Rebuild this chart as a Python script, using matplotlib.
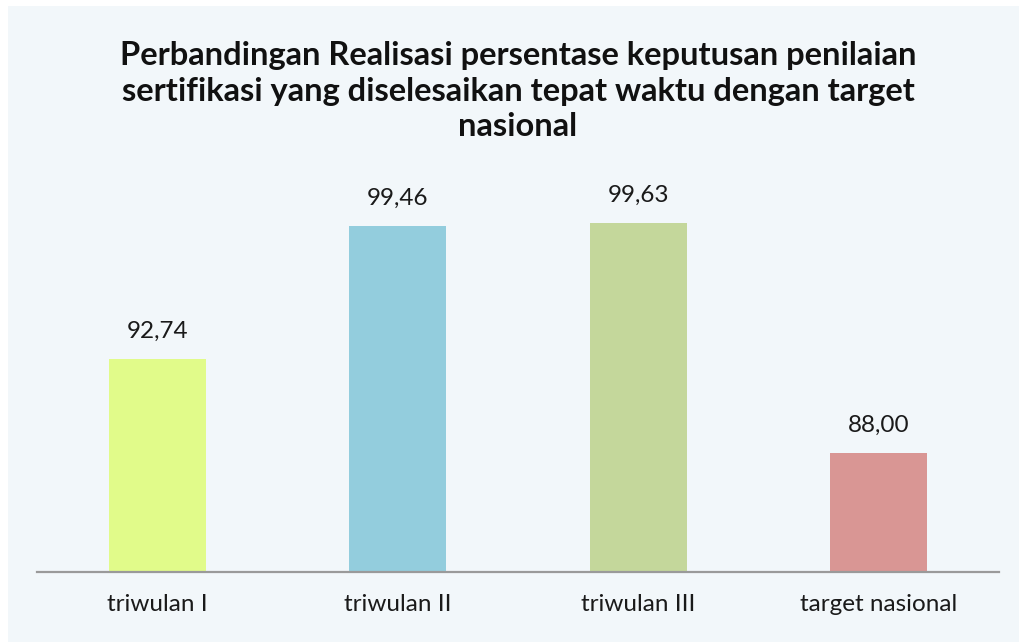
import matplotlib
matplotlib.use("Agg")
import matplotlib.pyplot as plt
from matplotlib.patches import Rectangle

categories = ["triwulan I", "triwulan II", "triwulan III", "target nasional"]
values = [92.74, 99.46, 99.63, 88.00]
labels = ["92,74", "99,46", "99,63", "88,00"]
colors = ["#E1FB8A", "#93CDDD", "#C4D79B", "#D99694"]
title = ("Perbandingan Realisasi persentase keputusan penilaian\n"
         "sertifikasi yang diselesaikan tepat waktu dengan target\n"
         "nasional")

W, H = 1019, 642
fig = plt.figure(figsize=(W / 100, H / 100), dpi=100)
fig.patch.set_facecolor("white")
fig.add_artist(Rectangle((8 / W, 0), (W - 8) / W, (H - 6) / H,
                         transform=fig.transFigure, facecolor="#F2F7FA",
                         edgecolor="none", zorder=0))

ax = fig.add_axes([37 / W, 70 / H, 962 / W, 396 / H])
ax.set_facecolor("none")
x = list(range(len(categories)))
ax.bar(x, values, width=0.403, color=colors, zorder=2)
ax.set_xlim(-0.5, 3.5)
ax.set_ylim(82, 102)
for xi, v, lab in zip(x, values, labels):
    ax.annotate(lab, (xi, v), xytext=(0, 20), textcoords="offset points",
                ha="center", va="center", fontsize=17.5,
                family="Lato", color="#1a1a1a")
ax.set_xticks(x)
ax.set_xticklabels(categories, fontsize=17.5, family="Lato", color="#1a1a1a")
ax.tick_params(axis="x", length=0, pad=16)
ax.set_yticks([])
for s in ["top", "right", "left"]:
    ax.spines[s].set_visible(False)
ax.spines["bottom"].set_color("#9a9a9a")
ax.spines["bottom"].set_linewidth(1.6)

fig.text(518 / W, 1 - 91 / H, title, ha="center", va="center",
         fontsize=23.5, fontweight="bold", family="Lato",
         linespacing=1.27, color="#111111")

fig.savefig("out.png", dpi=100, facecolor=fig.get_facecolor())
